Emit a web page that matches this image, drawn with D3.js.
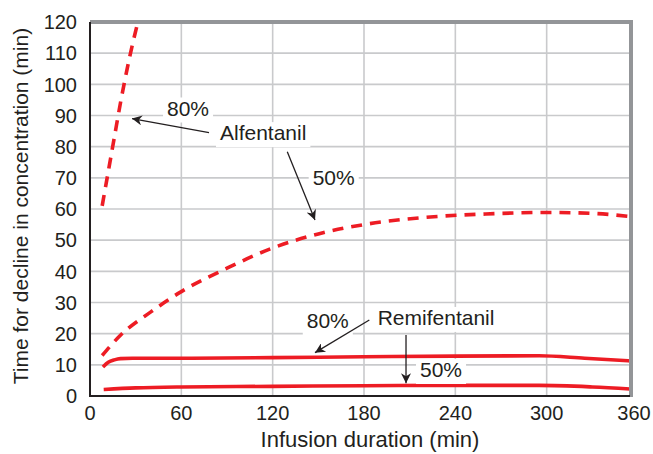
<!DOCTYPE html>
<html><head><meta charset="utf-8">
<script src="https://cdn.jsdelivr.net/npm/d3@7"></script>
<style>
html,body{margin:0;padding:0;background:#fff;}
svg{display:block;font-family:"Liberation Sans",Arial,Helvetica,sans-serif;}
</style></head>
<body><svg id="c" width="653" height="454"></svg>
<script>
// ---- data ----
const xTicks = [0, 60, 120, 180, 240, 300, 360];
const yTicks = [0, 10, 20, 30, 40, 50, 60, 70, 80, 90, 100, 110, 120];
const alfentanil80 = [[8,61],[12,72],[16,83],[20,94],[24,104],[28,113],[32,121]];
const alfentanil50 = [[8,13],[20,19.5],[40,27],[60,33.5],[90,41],[120,47.5],[150,52],[180,55],[220,57.3],[260,58.4],[300,58.9],[330,58.6],[360,57.3]];
const remifentanil80 = [[8.5,9.3],[12,10.8],[16,11.6],[20,12],[28,12.1],[60,12.1],[120,12.3],[180,12.6],[240,12.8],[295,12.9],[325,12.1],[360,11.1]];
const remifentanil50 = [[9,2.1],[30,2.6],[60,2.9],[120,3.1],[180,3.3],[240,3.4],[295,3.4],[330,2.9],[360,2.1]];
const labels = [
  {text:"80%", t:50.6, v:90},
  {text:"Alfentanil", t:85.4, v:82.1},
  {text:"50%", t:146.3, v:67.7},
  {text:"80%", t:142.4, v:21.8},
  {text:"Remifentanil", t:189, v:22.8},
  {text:"50%", t:216.8, v:6.1}
];
const arrows = [
  {from:[78.2,84.5], to:[27.6,89]},
  {from:[129.6,78.4], to:[147.8,56.5]},
  {from:[183.5,24.4], to:[147.8,13.9]},
  {from:[207.6,19.6], to:[207.6,4.1]}
];

// ---- layout ----
const svg = d3.select("#c");
const pL = 90, pR = 630, pT = 22, pB = 396;
const x = d3.scaleLinear().domain([0,360]).range([pL, 638]);
const y = d3.scaleLinear().domain([0,120]).range([pB, pT]);
const red = "#ed1c24", grid = "#c9cacc", ink = "#231f20", border = "#939598";

const defs = svg.append("defs");
defs.append("clipPath").attr("id","plot")
  .append("rect").attr("x",pL).attr("y",pT).attr("width",pR-pL).attr("height",pB-pT);

// gridlines
const g = svg.append("g").attr("clip-path","url(#plot)");
g.selectAll(".vg").data(xTicks.filter(d=>d>0)).join("line")
  .attr("x1",d=>x(d)).attr("x2",d=>x(d)).attr("y1",pT).attr("y2",pB)
  .attr("stroke",grid).attr("stroke-width",1.6);
g.selectAll(".hg").data(yTicks.filter(d=>d>0)).join("line")
  .attr("x1",pL).attr("x2",pR).attr("y1",d=>y(d)).attr("y2",d=>y(d))
  .attr("stroke",grid).attr("stroke-width",1.6);

// curves
const line = d3.line().x(d=>x(d[0])).y(d=>y(d[1])).curve(d3.curveMonotoneX);
const series = [
  {data:alfentanil80, dash:"11,8"},
  {data:alfentanil50, dash:"11,8"},
  {data:remifentanil80, dash:null},
  {data:remifentanil50, dash:null}
];
const cg = svg.append("g").attr("clip-path","url(#plot)");
cg.selectAll("path").data(series).join("path")
  .attr("d",d=>line(d.data)).attr("fill","none").attr("stroke",red)
  .attr("stroke-width",3.6).attr("stroke-dasharray",d=>d.dash);

// labels with white backgrounds
const lab = svg.append("g").attr("font-size",21).attr("fill",ink);
labels.forEach(l=>{
  const t = lab.append("text").attr("x",x(l.t)).attr("y",y(l.v)).text(l.text);
  const bb = t.node().getBBox();
  lab.insert("rect","text").attr("x",bb.x-4).attr("y",bb.y+1).attr("width",bb.width+8).attr("height",bb.height+2).attr("fill","#fff");
});

// arrows
defs.append("marker").attr("id","ah").attr("viewBox","0 0 10 10")
  .attr("refX",10).attr("refY",5).attr("markerWidth",12).attr("markerHeight",10)
  .attr("markerUnits","userSpaceOnUse").attr("orient","auto")
  .append("path").attr("d","M0,0 L10,5 L0,10 L3,5 Z").attr("fill",ink);
svg.append("g").selectAll("line").data(arrows).join("line")
  .attr("x1",d=>x(d.from[0])).attr("y1",d=>y(d.from[1]))
  .attr("x2",d=>x(d.to[0])).attr("y2",d=>y(d.to[1]))
  .attr("stroke",ink).attr("stroke-width",1.3).attr("marker-end","url(#ah)");

// border: gray top and right, black left and bottom
svg.append("line").attr("x1",pL).attr("x2",pR+3).attr("y1",pT).attr("y2",pT).attr("stroke",border).attr("stroke-width",4);
svg.append("line").attr("x1",pR+1).attr("x2",pR+1).attr("y1",pT-2).attr("y2",pB+1).attr("stroke",border).attr("stroke-width",4);
svg.append("line").attr("x1",pL).attr("x2",pL).attr("y1",pT).attr("y2",pB+1).attr("stroke",ink).attr("stroke-width",2);
svg.append("line").attr("x1",pL-1).attr("x2",pR).attr("y1",pB).attr("y2",pB).attr("stroke",ink).attr("stroke-width",2);

// tick labels
const tk = svg.append("g").attr("font-size",20).attr("fill",ink);
tk.selectAll(".yt").data(yTicks).join("text")
  .attr("x",77).attr("y",d=>y(d)).attr("dy","0.36em").attr("text-anchor","end").text(d=>d);
tk.selectAll(".xt").data(xTicks).join("text")
  .attr("x",d=>Math.min(x(d), 634)).attr("y",420).attr("text-anchor","middle").text(d=>d);

// axis titles
svg.append("text").attr("x",370).attr("y",447).attr("text-anchor","middle")
  .attr("font-size",22).attr("fill",ink).text("Infusion duration (min)");
svg.append("text").attr("transform","translate(28,206) rotate(-90)").attr("text-anchor","middle")
  .attr("font-size",21).attr("fill",ink).text("Time for decline in concentration (min)");
</script></body></html>
